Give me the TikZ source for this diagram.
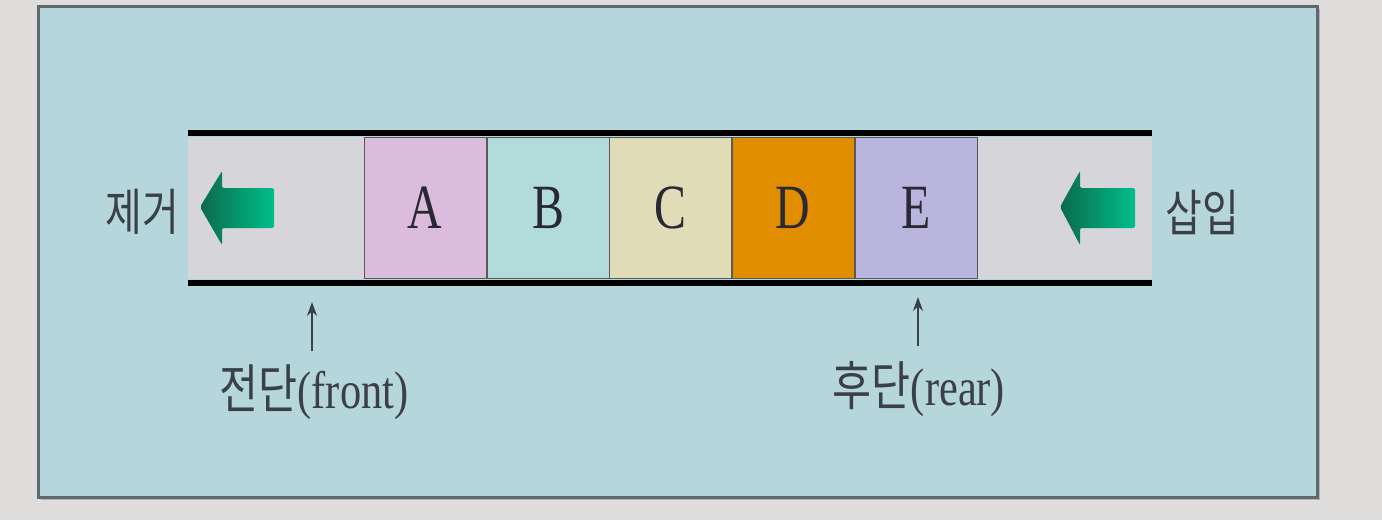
\documentclass[tikz,border=0pt]{standalone}
\usepackage{fontspec}
\setmainfont{Liberation Serif}
\newfontfamily\kr{Noto Sans CJK KR}
\usetikzlibrary{arrows.meta}
\definecolor{pagebg}{HTML}{DEDDDC}
\definecolor{panel}{HTML}{B5D6DB}
\definecolor{panelline}{HTML}{5E6A70}
\definecolor{strip}{HTML}{D6D6DA}
\definecolor{cA}{HTML}{DBBCDC}
\definecolor{cB}{HTML}{B2DCDC}
\definecolor{cC}{HTML}{E0DCB8}
\definecolor{cD}{HTML}{E08E00}
\definecolor{cE}{HTML}{B9B5DC}
\definecolor{txt}{HTML}{3A3F48}
\definecolor{celltxt}{HTML}{2A2834}
\definecolor{gdark}{HTML}{0B6A4C}
\definecolor{glight}{HTML}{00BE8A}
\tikzset{
  cell/.style={draw=gray!70!black, line width=1pt, minimum width=122pt, minimum height=141pt, inner sep=0pt, font=\fontsize{63}{63}\selectfont, text=celltxt},
  rail/.style={line width=6pt, black},
  side/.style={font=\kr\fontsize{50}{50}\selectfont, text=txt, inner sep=0pt},
  endlabel/.style={font=\fontsize{53}{53}\selectfont, text=txt, inner sep=0pt},
  greenarrow/.style={left color=gdark, right color=glight, draw=none, rounded corners=2pt},
  pointer/.style={-{Stealth[length=14pt,width=10pt]}, line width=1.4pt, txt},
}
\begin{document}
\begin{tikzpicture}[x=1pt,y=-1pt]
\useasboundingbox (0,0) rectangle (1382,520);
\fill[pagebg] (0,0) rectangle (1382,520);
% shadow + panel
\fill[gray!60] (41,9) rectangle (1320,500);
\draw[panelline, line width=3pt, fill=panel] (38,6) rectangle (1317,497);
% strip
\fill[strip] (188,137) rectangle (1152,279);
\node[cell, fill=cA] (A) at (425,207.5) {\scalebox{0.76}[1]{A}};
\node[cell, fill=cB] (B) at (548,207.5) {\scalebox{0.76}[1]{B}};
\node[cell, fill=cC] (C) at (670,207.5) {\scalebox{0.76}[1]{C}};
\node[cell, fill=cD] (D) at (793,207.5) {\scalebox{0.76}[1]{D}};
\node[cell, fill=cE] (E) at (916,207.5) {\scalebox{0.76}[1]{E}};
\draw[rail] (188,133) -- (1152,133);
\draw[rail] (188,283) -- (1152,283);
% green arrows
\shade[greenarrow] (200,207) -- (222,171) -- (222,188) -- (274,188) -- (274,228) -- (222,228) -- (222,245) -- cycle;
\shade[greenarrow] (1060,207) -- (1080,171) -- (1080,188) -- (1135,188) -- (1135,228) -- (1080,228) -- (1080,245) -- cycle;
% side labels
\node[side] (remove) at (142,212) {\scalebox{0.8}[1]{제거}};
\node[side] (insert) at (1202,212) {\scalebox{0.8}[1]{삽입}};
% end labels
\node[endlabel] (front) at (314,392) {\scalebox{0.8}[1]{{\kr 전단}(front)}};
\node[endlabel] (rear) at (919,389) {\scalebox{0.8}[1]{{\kr 후단}(rear)}};
\coordinate (fronttip) at (312,302);
\coordinate (reartip) at (918,297);
\draw[pointer] (312,351) -- (fronttip);
\draw[pointer] (918,346) -- (reartip);
\end{tikzpicture}
\end{document}
